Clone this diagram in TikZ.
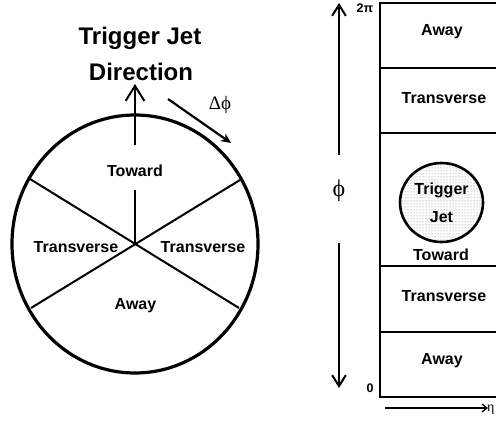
\documentclass[tikz,border=0pt]{standalone}
\usepackage{fontspec}
\setmainfont{Liberation Serif}
\setsansfont{Liberation Sans}
\usetikzlibrary{arrows.meta,patterns}
\begin{document}
\begin{tikzpicture}[x=1pt,y=-1pt,
  lab/.style={font=\sffamily\bfseries\fontsize{16}{18}\selectfont, inner sep=0pt},
  big/.style={font=\sffamily\bfseries\fontsize{24}{26}\selectfont, inner sep=0pt},
  small/.style={font=\sffamily\bfseries\fontsize{12.5}{14}\selectfont, inner sep=0pt},
  greek/.style={font=\rmfamily\fontsize{#1}{#1}\selectfont, inner sep=0pt},
  thin/.style={line width=2pt},
  openhead/.style={-{Straight Barb[length=#1,width=1.25*#1,line width=2pt]}}]
\useasboundingbox (0,0) rectangle (496,423);
\begin{scope}
\clip (0,0) rectangle (496,423);
% ---------------- left: azimuthal circle ----------------
\coordinate (c) at (135,244);
\coordinate (ul) at (30,179);
\coordinate (ur) at (240,180);
\coordinate (ll) at (31,308);
\coordinate (lr) at (239,308);
\draw[line width=3.2pt] (c) ellipse [x radius=123, y radius=129];
\draw[thin] (ul) -- (lr);
\draw[thin] (ur) -- (ll);
\coordinate (vlow) at (135,190);
\coordinate (vhigh) at (135,145);
\coordinate (vtip) at (135,84);
\draw[line width=2.6pt] (c) -- (vlow);
\draw[line width=2.6pt, openhead=15pt] (vhigh) -- (vtip);
\node[big] (tj) at (140,38) {Trigger Jet};
\node[big] (dir) at (141,72) {Direction};
\node[lab] (tw) at (135,171) {Toward};
\node[lab] (trl) at (76,247) {Transverse};
\node[lab] (trr) at (203,247) {Transverse};
\node[lab] (aw) at (135.5,306) {Away};
\coordinate (da) at (168,99);
\coordinate (db) at (231,143);
\draw[line width=2.2pt, -{Stealth[length=10pt,width=9pt]}] (da) -- (db);
\node[greek=19] (dphi) at (220,105) {Δϕ};
% ---------------- right: eta-phi plane ----------------
\draw[thin] (380,3) rectangle (500,397);
\draw[thin] (380,68) -- (500,68);
\draw[thin] (380,133) -- (500,133);
\draw[thin] (380,266) -- (500,266);
\draw[thin] (380,332) -- (500,332);
\node[lab] (a1) at (442,32) {Away};
\node[lab] (t1) at (444,98) {Transverse};
\draw[line width=2.6pt, pattern=dots, pattern color=gray!90!black] (441.5,202.5) ellipse [x radius=41.5, y radius=39.5];
\node[lab] (trg) at (441.5,190) {Trigger};
\node[lab] (jet) at (441.5,217) {Jet};
\node[lab] (tw2) at (441,255) {Toward};
\node[lab] (t2) at (444,296) {Transverse};
\node[lab] (a2) at (442,361) {Away};
\coordinate (pt) at (339,3);
\coordinate (pu) at (339,155);
\coordinate (pd) at (339,243);
\coordinate (pb) at (339,388);
\draw[line width=2pt, openhead=11pt] (pu) -- (pt);
\draw[line width=2pt, openhead=11pt] (pd) -- (pb);
\node[greek=24] (phi) at (339,191) {ϕ};
\node[small] (twopi) at (365,8) {2π};
\node[small] (zero) at (370,388) {0};
\coordinate (ea) at (385,408);
\coordinate (eb) at (488,408);
\draw[line width=1.3pt, -{Straight Barb[length=5pt,width=8pt,line width=1.3pt]}] (ea) -- (eb);
\node[greek=14, anchor=west] (eta) at (487,410) {η};
\end{scope}
\end{tikzpicture}
\end{document}
